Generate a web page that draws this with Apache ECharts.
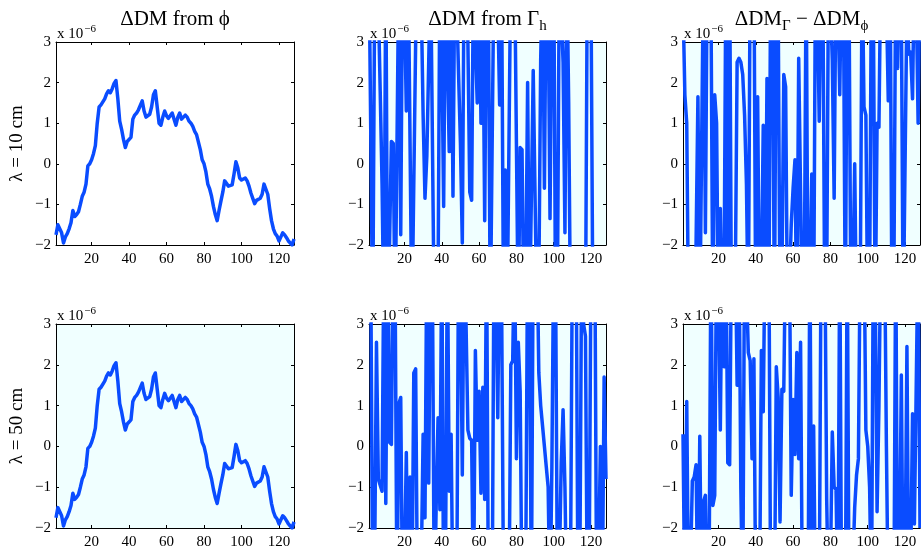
<!DOCTYPE html>
<html>
<head>
<meta charset="utf-8">
<script src="https://cdn.jsdelivr.net/npm/echarts@6/dist/echarts.min.js"></script>
<style>
  html, body { margin: 0; padding: 0; background: #ffffff; }
  #chart { width: 921px; height: 552px; }
</style>
</head>
<body>
<div id="chart"></div>
<script>
// Tick positions shared by every panel (y values are in units of 1e-6)
const xTicks = [20, 40, 60, 80, 100, 120];
const yMin = -2;
const yMax = 3;

// DM change estimated from the phase, same for both wavelengths
const dmPhi = [
  -1.75, -1.5, -1.5, -1.7, -1.95, -1.8, -1.72, -1.6, -1.45, -1.15,
  -1.3, -1.25, -1.18, -1.0, -0.8, -0.7, -0.5, -0.05, 0.0, 0.1,
  0.25, 0.45, 1.0, 1.4, 1.45, 1.48, 1.6, 1.72, 1.8, 1.75,
  1.85, 1.98, 2.05, 1.6, 1.05, 0.85, 0.6, 0.4, 0.55, 0.58,
  0.65, 1.1, 1.2, 1.25, 1.33, 1.35, 1.55, 1.3, 1.15, 1.15,
  1.22, 1.4, 1.7, 1.8, 1.4, 1.0, 0.95, 1.15, 1.3, 1.18,
  1.12, 1.1, 1.25, 1.1, 0.95, 1.15, 1.25, 1.1, 1.12, 1.2,
  1.15, 1.05, 1.0, 0.92, 0.8, 0.72, 0.7, 0.35, 0.1, 0.0,
  -0.2, -0.5, -0.62, -0.8, -1.05, -1.25, -1.4, -1.15, -0.92, -0.7,
  -0.42, -0.45, -0.55, -0.55, -0.52, -0.25, 0.05, -0.1, -0.35, -0.4,
  -0.38, -0.35, -0.42, -0.55, -0.72, -0.85, -0.98, -0.9, -0.88, -0.85,
  -0.75, -0.5, -0.5, -0.75, -1.1, -1.4, -1.6, -1.72, -1.78, -1.9,
  -1.8, -1.7, -1.75, -1.82, -1.9, -1.95, -2.0, -1.85
];

// DM change estimated from Gamma_h, lambda = 10 cm
const dmGamma10 = [
  5, 5, -4, 4, 5, 4, 1.8, -0.5, -4, 5,
  -4, -2, 0.55, 0.5, -4, -4, 5, -1.75, 5, 4,
  1.3, 5, 5, -4, -4, 3, 5, 5, 4, 1.2,
  -0.85, 0.2, 2.5, 5, 5, -4, -4, -3, 5, 3,
  -1.05, 5, 5, 0.3, 5, -0.8, 5, 4, 2.2, 0.5,
  -1.95, 5, 5, 3, -0.7, -0.9, 5, 3, 1.5, 5,
  1.0, 4, -1.4, 5, 4, -4, -4, 5, 5, 4,
  1.45, 5, -3, -0.15, -4, -4, 5, 4, 5, 5,
  -4, 0.4, 0.35, -4, -3, 2, -4, -4, 2.3, 2.3,
  -4, -3, 2.55, 5, -0.6, 5, 4, -1.35, 4, 5,
  -4, -3, 5, 5, 2.5, -1.7, 5, 1.5, -4, -4,
  -3, -4, -3, -4, -4, -3, -4, 5, 5, 4,
  -4, -4, -4, -3, -4, -4, -4, -4
];

// Difference Gamma - phi, lambda = 10 cm
const dmDiff10 = [
  4, 1.7, 1.0, -4, -4, -3, -4, -2, 1.65, -4,
  -4, 5, -1.7, 5, 5, 4, -4, 1.7, 1.0, -4,
  -1.1, -4, -3, 5, -4, 5, -4, -4, -3, 2.5,
  2.6, 2.5, 2.2, 1.2, -0.5, -4, 5, 4, 5, -4,
  1.65, -4, -3, 0.95, -4, 2.1, -4, 5, 4, -4,
  5, 4, -4, -3, 2.2, 1.9, -4, -3, -1.5, -0.6,
  0.1, -4, 2.6, 2.6, -4, -3, 5, -4, -3, -0.25,
  -4, 5, 4, 1.05, 5, 4, -4, -3, 5, 4,
  2.55, -0.85, 5, 4, 1.7, 5, 4, -4, 5, 4,
  -4, -3, 0.0, -4, -4, -3, 5, 1.4, 1.2, -4,
  -3, 5, 4, -4, 1.0, 0.9, 5, 4, 5, 4,
  1.55, 5, -4, -3, 5, 2.35, 5, 4, -4, -4,
  4, 2.7, 2.75, 1.6, 5, 4, 1.0, 5
];

// DM change estimated from Gamma_h, lambda = 50 cm
const dmGamma50 = [
  5, 4, -4, -3, 2.55, -0.8, -0.95, -1.1, 5, -1.4,
  5, 0.1, 0.05, 5, 4, -4, 1.05, 1.2, -4, -3,
  -0.15, -4, -0.75, -4, 1.8, 1.9, -4, -4, -3, 0.3,
  -1.75, 5, -0.9, 5, 4, -4, -1.45, 0.7, -1.55, 5,
  -4, -3, 5, -1.1, 0.3, -4, -3, -4, 5, 4,
  -0.7, 5, 3, 0.4, 0.2, 0.15, -4, 2.35, 0.15, 1.35,
  -1.15, 1.45, -1.3, 5, -4, -3, -4, 5, 4, 0.7,
  5, 4, -3, -4, -3, -4, 2.0, 2.1, 5, -0.3,
  2.55, 1.35, -4, -4, -3, 5, 4, -4, 5, 4,
  5, 1.8, 1.0, 0.5, 0.0, -0.5, -1.0, -4, -0.5, 5,
  4, -4, -3, -0.4, 0.9, -1, -4, -4, -3, 5,
  4, 5, -4, -3, 5, 3, 2.7, -4, -3, 5,
  4, 5, -4, -3, 0.0, -4, 1.7, -0.8
];

// Difference Gamma - phi, lambda = 50 cm
const dmDiff50 = [
  0.3, -4, 1.1, -4, -3, -0.85, -0.75, -0.45, -4, 0.25,
  -4, -1.35, -1.2, -4, -3, 5, -1.45, -1.2, 5, 4,
  0.4, 5, 1.95, 5, -0.4, -0.45, 5, 4, 5, 1.5,
  5, -1.05, -4, 5, 4, 2.3, 2.1, -0.3, 2.15, -4,
  -3, -4, 2.35, 0.85, 5, 4, 5, -4, -3, -4,
  1.95, 1.2, -1.85, 1.4, 1.35, 5, 4, 5, -1.2, 1.15,
  -0.2, 2.3, -0.3, 2.55, -4, -4, -3, -4, 5, -4,
  0.5, -4, -3, -4, 5, 4, 5, -1.3, -4, -3,
  0.35, -1.0, -1.05, -4, 5, -4, -3, -4, 5, -4,
  -4, -3, -1.5, -0.7, -0.3, 5, 4, 5, 0.4, 0.0,
  -1.0, -4, 5, 4, -1.6, 1, 5, 4, 5, 0,
  -4, -4, -3, -4, 5, -4, -3, 1.75, -4, -3,
  2.45, -4, -3, 0.8, -1.9, -1.9, 5, -2
];

const panelSeries = [dmPhi, dmGamma10, dmDiff10, dmPhi, dmGamma50, dmDiff50];
const rowLabels = ['\u03bb = 10 cm', '\u03bb = 50 cm'];

const FONT = 'Liberation Serif';
const LINE_COLOR = '#0a4cff';
const cols = [{ left: 56, width: 238 }, { left: 369, width: 237 }, { left: 683, width: 237 }];
const rows = [{ top: 42, height: 203 }, { top: 324, height: 204 }];
const panelBg = ['#ffffff', '#f0ffff', '#f0ffff', '#f0ffff', '#f0ffff', '#f0ffff'];

const grids = [], xAxes = [], yAxes = [], series = [], graphics = [];
const minus = v => String(v).replace('-', '\u2212');

rows.forEach((row, r) => {
  cols.forEach((col, c) => {
    const k = r * 3 + c;
    grids.push({
      left: col.left, top: row.top, width: col.width, height: row.height,
      show: true, backgroundColor: panelBg[k], borderWidth: 0
    });
    const axisLine = { show: true, onZero: false, lineStyle: { color: '#000', width: 1 } };
    const tick = { show: true, inside: true, length: 3, lineStyle: { color: '#000', width: 1 } };
    xAxes.push({
      type: 'value', gridIndex: k, position: 'bottom', min: 1, max: 128,
      axisLine, axisTick: Object.assign({ customValues: xTicks }, tick),
      axisLabel: { customValues: xTicks, color: '#000', fontFamily: FONT, fontSize: 15, margin: 7 },
      splitLine: { show: false }
    });
    xAxes.push({
      type: 'value', gridIndex: k, position: 'top', min: 1, max: 128,
      axisLine, axisTick: Object.assign({ customValues: xTicks }, tick),
      axisLabel: { show: false }, splitLine: { show: false }
    });
    yAxes.push({
      type: 'value', gridIndex: k, position: 'left', min: yMin, max: yMax, interval: 1,
      axisLine, axisTick: tick,
      axisLabel: { color: '#000', fontFamily: FONT, fontSize: 15, margin: 5, formatter: minus },
      splitLine: { show: false }
    });
    yAxes.push({
      type: 'value', gridIndex: k, position: 'right', min: yMin, max: yMax, interval: 1,
      axisLine, axisTick: tick, axisLabel: { show: false }, splitLine: { show: false }
    });
    series.push({
      type: 'line', xAxisIndex: 2 * k, yAxisIndex: 2 * k,
      data: panelSeries[k].map((v, i) => [i + 1, v]),
      showSymbol: false, symbol: 'none', clip: true, animation: false,
      lineStyle: { color: LINE_COLOR, width: 3.5, join: 'round' }
    });
    // exponent marker above the y axis
    graphics.push({
      type: 'text', left: col.left + 1, top: row.top - 18,
      style: {
        text: '{a|x 10}{e|\u22126}',
        rich: {
          a: { fontFamily: FONT, fontSize: 15, fill: '#000' },
          e: { fontFamily: FONT, fontSize: 11, fill: '#000', padding: [0, 0, 9, 1] }
        }
      }
    });
  });
  // row label
  graphics.push({
    type: 'text', x: 17, y: row.top + row.height / 2, rotation: Math.PI / 2,
    style: {
      text: rowLabels[r], fontFamily: FONT, fontSize: 19, fill: '#000',
      align: 'center', verticalAlign: 'middle'
    }
  });
});

// column titles
const titleRich = {
  m: { fontFamily: FONT, fontSize: 21, fill: '#000' },
  s: { fontFamily: FONT, fontSize: 15, fill: '#000', padding: [14, 0, 0, 0] }
};
const titles = [
  '{m|\u0394DM from \u03d5}',
  '{m|\u0394DM from \u0393}{s|h}',
  '{m|\u0394DM}{s|\u0393}{m| \u2212 \u0394DM}{s|\u03d5}'
];
titles.forEach((t, c) => {
  graphics.push({
    type: 'text', x: cols[c].left + cols[c].width / 2, y: 19,
    style: { text: t, rich: titleRich, align: 'center', verticalAlign: 'middle' }
  });
});

const chart = echarts.init(document.getElementById('chart'), null, { renderer: 'canvas' });
chart.setOption({
  animation: false,
  backgroundColor: '#ffffff',
  grid: grids,
  xAxis: xAxes,
  yAxis: yAxes,
  series: series,
  graphic: graphics
});
</script>
</body>
</html>
